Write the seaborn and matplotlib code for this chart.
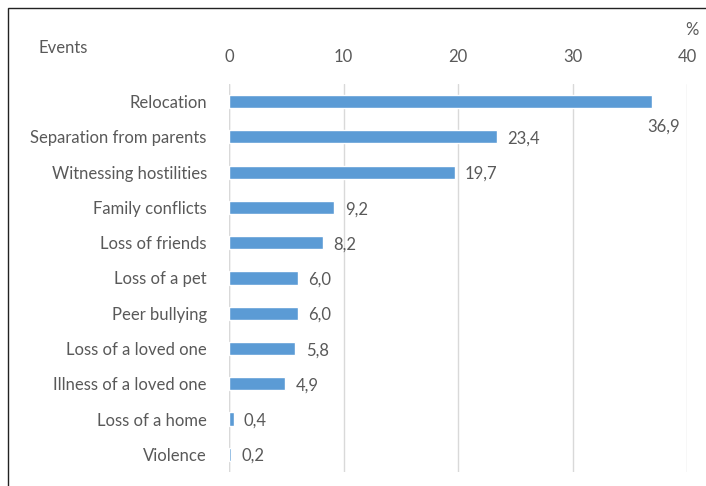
import matplotlib
matplotlib.use("Agg")
import matplotlib.pyplot as plt
import seaborn as sns
import pandas as pd

events = ["Relocation", "Separation from parents", "Witnessing hostilities",
          "Family conflicts", "Loss of friends", "Loss of a pet", "Peer bullying",
          "Loss of a loved one", "Illness of a loved one", "Loss of a home", "Violence"]
percent = [36.9, 23.4, 19.7, 9.2, 8.2, 6.0, 6.0, 5.8, 4.9, 0.4, 0.2]
ticks = [0, 10, 20, 30, 40]

df = pd.DataFrame({"event": events, "pct": percent})

sns.set_theme(style="white")
plt.rcParams["font.family"] = ["Lato", "DejaVu Sans"]
grey = "#595959"
fs = 12

fig = plt.figure(figsize=(7.06, 4.86), dpi=100)
ax = fig.add_axes([0.3244, 0.029, 0.6487, 0.798])

sns.barplot(data=df, x="pct", y="event", color="#5B9BD5", width=0.37,
            saturation=1, ax=ax, zorder=3)

ax.set_xlim(0, 40)
ax.set_xticks(ticks)
ax.xaxis.tick_top()
ax.tick_params(axis="x", length=0, pad=14, labelsize=fs, labelcolor=grey)
ax.tick_params(axis="y", length=0, pad=16, labelsize=fs, labelcolor=grey)
ax.grid(axis="x", color="#D9D9D9", linewidth=1, zorder=0)
for s in ax.spines.values():
    s.set_visible(False)
ax.axvline(0, color="#D9D9D9", linewidth=1, zorder=1)
ax.set_xlabel("")
ax.set_ylabel("")

for i, v in enumerate(percent):
    txt = f"{v:.1f}".replace(".", ",")
    if v > 35:
        ax.text(39.4, i + 0.7, txt, ha="right", va="center", fontsize=fs, color=grey)
    else:
        ax.text(v + 0.9, i + 0.05, txt, ha="left", va="center", fontsize=fs, color=grey)

fig.text(38 / 706, 1 - 48 / 486, "Events", ha="left", va="center", fontsize=fs, color=grey)
fig.text(699 / 706, 1 - 30 / 486, "%", ha="right", va="center", fontsize=fs, color=grey)

# outer frame (right and bottom fall outside the image)
frame = plt.Rectangle((8 / 706, -0.1), 1.2, 1 - 8 / 486 + 0.1, transform=fig.transFigure,
                      fill=False, edgecolor="#222222", linewidth=1.0)
fig.patches.append(frame)

fig.savefig("out.png", dpi=100)
